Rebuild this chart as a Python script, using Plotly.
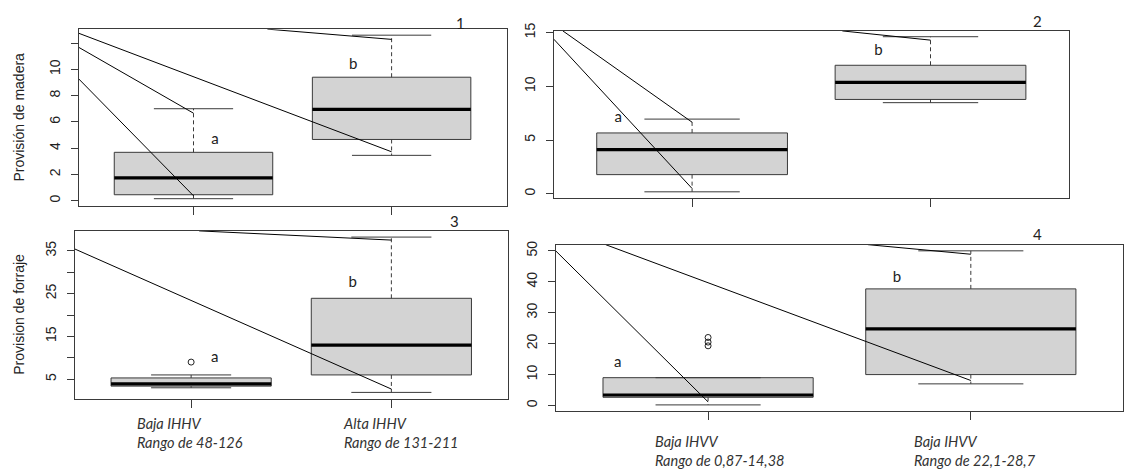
import plotly.graph_objects as go

# ---------------- data ----------------
positions = [1, 2]

# panel 1: Provisión de madera (IHHV)
p1_q1 = [0.45, 4.66]
p1_med = [1.73, 6.95]
p1_q3 = [3.68, 9.40]
p1_lw = [0.15, 3.45]
p1_uw = [7.00, 12.60]
p1_out_x, p1_out_y = [], []
p1_letters = ["a", "b"]
p1_letter_x = [1.108, 1.806]
p1_letter_y = [4.57, 10.31]

# panel 2: Provisión de madera (IHVV)
p2_q1 = [1.78, 8.78]
p2_med = [4.10, 10.37]
p2_q3 = [5.66, 11.96]
p2_lw = [0.18, 8.48]
p2_uw = [6.95, 14.62]
p2_out_x, p2_out_y = [], []
p2_letters = ["a", "b"]
p2_letter_x = [0.69, 1.782]
p2_letter_y = [7.06, 13.24]

# panel 3: Provision de forraje (IHHV)
p3_q1 = [3.39, 6.0]
p3_med = [3.92, 12.95]
p3_q3 = [5.30, 23.9]
p3_lw = [3.0, 1.92]
p3_uw = [6.0, 38.2]
p3_out_x, p3_out_y = [1], [9.0]
p3_letters = ["a", "b"]
p3_letter_x = [1.118, 1.807]
p3_letter_y = [9.97, 27.4]

# panel 4: Provision de forraje (IHVV)
p4_q1 = [2.67, 10.0]
p4_med = [3.40, 24.8]
p4_q3 = [9.0, 37.7]
p4_lw = [0.2, 7.0]
p4_uw = [9.0, 50.0]
p4_out_x, p4_out_y = [1, 1, 1], [22.0, 20.5, 19.3]
p4_letters = ["a", "b"]
p4_letter_x = [0.656, 1.719]
p4_letter_y = [13.6, 41.2]

# stray leader lines seen in the figure (x0, y0, x1, y1) in data units
p1_leaders = [(0.42, 12.75, 2, 3.72), (0.42, 11.68, 1, 6.66),
              (0.42, 9.28, 1, 0.37), (1.373, 13.06, 2, 12.28)]
p2_leaders = [(0.42, 14.39, 1, 0.49), (0.458, 15.16, 1, 6.66),
              (1.63, 15.16, 2, 14.3)]
p3_leaders = [(0.42, 35.4, 2, 2.7), (1.04, 39.65, 2, 37.5)]
p4_leaders = [(0.42, 50.0, 1, 1.18), (0.61, 52.0, 2, 8.09),
              (1.608, 52.0, 2, 48.9)]

# axes
p1_ticks = [0, 2, 4, 6, 8, 10, 12]
p1_ticktext = ["0", "2", "4", "6", "8", "10", ""]
p2_ticks = [0, 5, 10, 15]
p2_ticktext = ["0", "5", "10", "15"]
p3_ticks = [5, 10, 15, 20, 25, 30, 35]
p3_ticktext = ["5", "", "15", "", "25", "", "35"]
p4_ticks = [0, 10, 20, 30, 40, 50]
p4_ticktext = ["0", "10", "20", "30", "40", "50"]

ylab_top = "Provisión de madera"
ylab_bottom = "Provision de forraje"
xlabels_left = ["Baja IHHV<br>Rango de 48-126", "Alta IHHV<br>Rango de 131-211"]
xlabels_right = ["Baja IHVV<br>Rango de 0,87-14,38", "Baja IHVV<br>Rango de 22,1-28,7"]
panel_numbers = ["1", "2", "3", "4"]

# ---------------- style ----------------
W, H = 1125, 475
BOX_HALF = 0.4
CAP_HALF = 0.2
EDGE = "#3a3a3a"
FILL = "#d3d3d3"
SANS = "Liberation Sans, Arial, sans-serif"
CAL = "Lato, Open Sans, sans-serif"

fig = go.Figure()

panels = [
    dict(q1=p1_q1, med=p1_med, q3=p1_q3, lw=p1_lw, uw=p1_uw, ox=p1_out_x, oy=p1_out_y,
         lt=p1_letters, lx=p1_letter_x, ly=p1_letter_y, lead=p1_leaders, ax="", yr=[-0.4, 13.06],
         tv=p1_ticks, tt=p1_ticktext,
         dom_x=[78.6, 506.5], dom_y=[21.5, 201.3]),
    dict(q1=p2_q1, med=p2_med, q3=p2_q3, lw=p2_lw, uw=p2_uw, ox=p2_out_x, oy=p2_out_y,
         lt=p2_letters, lx=p2_letter_x, ly=p2_letter_y, lead=p2_leaders, ax="2", yr=[-0.4, 15.16],
         tv=p2_ticks, tt=p2_ticktext,
         dom_x=[553.8, 1068.8], dom_y=[23.3, 193.3]),
    dict(q1=p3_q1, med=p3_med, q3=p3_q3, lw=p3_lw, uw=p3_uw, ox=p3_out_x, oy=p3_out_y,
         lt=p3_letters, lx=p3_letter_x, ly=p3_letter_y, lead=p3_leaders, ax="3", yr=[0.47, 39.65],
         tv=p3_ticks, tt=p3_ticktext,
         dom_x=[75.0, 507.5], dom_y=[226.7, 397.3]),
    dict(q1=p4_q1, med=p4_med, q3=p4_q3, lw=p4_lw, uw=p4_uw, ox=p4_out_x, oy=p4_out_y,
         lt=p4_letters, lx=p4_letter_x, ly=p4_letter_y, lead=p4_leaders, ax="4", yr=[-1.8, 52.0],
         tv=p4_ticks, tt=p4_ticktext,
         dom_x=[555.7, 1123.2], dom_y=[240.7, 410.0]),
]

annotations = []
layout_axes = {}

for p in panels:
    xa = "x" + p["ax"]
    ya = "y" + p["ax"]
    for i, c in enumerate(positions):
        # box body
        fig.add_trace(go.Scatter(
            x=[c - BOX_HALF, c + BOX_HALF, c + BOX_HALF, c - BOX_HALF, c - BOX_HALF],
            y=[p["q1"][i], p["q1"][i], p["q3"][i], p["q3"][i], p["q1"][i]],
            mode="lines", fill="toself", fillcolor=FILL,
            line=dict(color=EDGE, width=1), xaxis=xa, yaxis=ya,
            showlegend=False, hoverinfo="skip"))
        # whiskers (dashed)
        fig.add_trace(go.Scatter(
            x=[c, c, None, c, c],
            y=[p["q3"][i], p["uw"][i], None, p["q1"][i], p["lw"][i]],
            mode="lines", line=dict(color=EDGE, width=1, dash="4px,3px"),
            xaxis=xa, yaxis=ya, showlegend=False, hoverinfo="skip"))
        # caps
        fig.add_trace(go.Scatter(
            x=[c - CAP_HALF, c + CAP_HALF, None, c - CAP_HALF, c + CAP_HALF],
            y=[p["uw"][i], p["uw"][i], None, p["lw"][i], p["lw"][i]],
            mode="lines", line=dict(color=EDGE, width=1),
            xaxis=xa, yaxis=ya, showlegend=False, hoverinfo="skip"))
        # median
        fig.add_trace(go.Scatter(
            x=[c - BOX_HALF, c + BOX_HALF], y=[p["med"][i], p["med"][i]],
            mode="lines", line=dict(color="black", width=3.2),
            xaxis=xa, yaxis=ya, showlegend=False, hoverinfo="skip"))
    # outliers
    if p["ox"]:
        fig.add_trace(go.Scatter(
            x=p["ox"], y=p["oy"], mode="markers",
            marker=dict(symbol="circle-open", size=6, color="#222", line=dict(width=1)),
            xaxis=xa, yaxis=ya, showlegend=False, hoverinfo="skip"))
    # leader lines
    lx, ly = [], []
    for (x0, y0, x1, y1) in p["lead"]:
        lx += [x0, x1, None]
        ly += [y0, y1, None]
    fig.add_trace(go.Scatter(
        x=lx, y=ly, mode="lines", line=dict(color="black", width=1),
        xaxis=xa, yaxis=ya, showlegend=False, hoverinfo="skip"))
    # letters
    fig.add_trace(go.Scatter(
        x=p["lx"], y=p["ly"], mode="text", text=p["lt"],
        textfont=dict(family=CAL, size=15, color="#222"),
        xaxis=xa, yaxis=ya, showlegend=False, hoverinfo="skip"))

    dx0, dx1 = p["dom_x"]
    dy0, dy1 = p["dom_y"]
    key = p["ax"]
    layout_axes["xaxis" + key] = dict(
        domain=[dx0 / W, dx1 / W], range=[0.42, 2.58], anchor=ya,
        tickvals=positions, ticktext=["", ""], ticks="outside", ticklen=8,
        tickcolor=EDGE, showline=True, linecolor=EDGE, linewidth=1, mirror=True,
        showgrid=False, zeroline=False, fixedrange=True)
    layout_axes["yaxis" + key] = dict(
        domain=[1 - dy1 / H, 1 - dy0 / H], range=p["yr"], anchor=xa,
        tickvals=p["tv"], ticktext=p["tt"], ticks="outside", ticklen=7,
        tickcolor=EDGE, tickangle=-90, ticklabelstandoff=5,
        tickfont=dict(family=SANS, size=14, color="#222"),
        showline=True, linecolor=EDGE, linewidth=1, mirror=True,
        showgrid=False, zeroline=False, fixedrange=True)

# y-axis titles
annotations.append(dict(text=ylab_top, xref="paper", yref="y domain", x=19.0 / W, y=0.5,
                        xanchor="center", yanchor="middle", textangle=-90, showarrow=False,
                        font=dict(family=SANS, size=14, color="#222")))
annotations.append(dict(text=ylab_bottom, xref="paper", yref="y3 domain", x=19.0 / W, y=0.5,
                        xanchor="center", yanchor="middle", textangle=-90, showarrow=False,
                        font=dict(family=SANS, size=14, color="#222")))

# category labels under bottom panels
lab_left_x = [0.721, 1.75]
lab_right_x = [0.791, 1.778]
for txt, xx in zip(xlabels_left, lab_left_x):
    annotations.append(dict(text="<i>" + txt + "</i>", xref="x3", yref="paper", x=xx,
                            y=1 - 412 / H, xanchor="left", yanchor="top", align="left",
                            showarrow=False, font=dict(family=CAL, size=14.5, color="#333")))
for txt, xx in zip(xlabels_right, lab_right_x):
    annotations.append(dict(text="<i>" + txt + "</i>", xref="x4", yref="paper", x=xx,
                            y=1 - 430.5 / H, xanchor="left", yanchor="top", align="left",
                            showarrow=False, font=dict(family=CAL, size=14.5, color="#333")))

# panel numbers
num_pos = [(460.7, 15.0), (1037.4, 13.3), (454.3, 216.7), (1037.4, 230.0)]
for n, (px, py) in zip(panel_numbers, num_pos):
    annotations.append(dict(text=n, xref="paper", yref="paper", x=px / W, y=1 - py / H,
                            xanchor="center", yanchor="middle", showarrow=False,
                            font=dict(family=CAL, size=15, color="#222")))

fig.update_layout(
    width=W, height=H, margin=dict(l=0, r=0, t=0, b=0),
    paper_bgcolor="white", plot_bgcolor="white",
    showlegend=False, annotations=annotations, **layout_axes)

fig.write_html("out.html", config={"displayModeBar": False})
